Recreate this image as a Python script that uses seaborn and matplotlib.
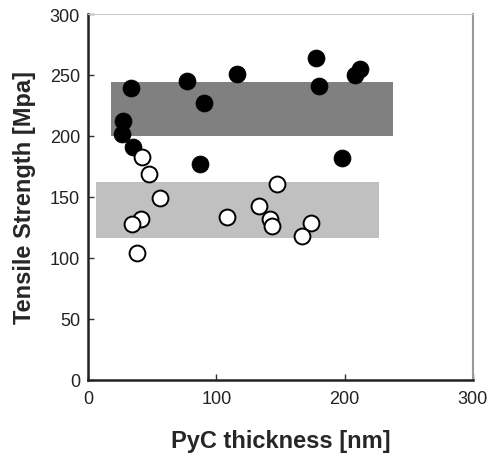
import seaborn as sns
import matplotlib.pyplot as plt
from matplotlib.patches import Rectangle
import pandas as pd

# dados
filled_x = [33, 77, 116, 90, 27, 26, 35, 87, 178, 180, 212, 208, 198]
filled_y = [239, 245, 251, 227, 212, 202, 191, 177, 264, 241, 255, 250, 182]
open_x = [42, 47, 56, 41, 34, 38, 108, 133, 142, 143, 147, 174, 167]
open_y = [183, 169, 149, 132, 128, 104, 134, 143, 132, 126, 161, 129, 118]

# faixas sombreadas (x0, x1, y0, y1)
dark_band = [18, 238, 200, 244]
light_band = [6, 227, 116, 162]

df_filled = pd.DataFrame({"x": filled_x, "y": filled_y})
df_open = pd.DataFrame({"x": open_x, "y": open_y})

sns.set_style("ticks")
plt.rcParams["font.family"] = ["Liberation Sans", "DejaVu Sans"]

fig = plt.figure(figsize=(4.87, 4.56), dpi=100)
ax = fig.add_axes([0.1813, 0.1645, 0.7893, 0.8026])

for band, cor in [(dark_band, "#808080"), (light_band, "#c0c0c0")]:
    ax.add_patch(Rectangle((band[0], band[2]), band[1] - band[0], band[3] - band[2],
                           facecolor=cor, edgecolor="none", zorder=1))

sns.scatterplot(data=df_filled, x="x", y="y", ax=ax, s=150, color="black",
                edgecolor="black", linewidth=0.5, zorder=3)
sns.scatterplot(data=df_open, x="x", y="y", ax=ax, s=130, color="white",
                edgecolor="black", linewidth=1.4, zorder=3)

ax.set_xlim(0, 300)
ax.set_ylim(0, 300)
ax.set_xticks([0, 100, 200, 300])
ax.set_yticks([0, 50, 100, 150, 200, 250, 300])
ax.tick_params(direction="in", length=4, width=1, labelsize=13, colors="#333333",
               labelcolor="#222222")
ax.tick_params(axis="x", pad=7)
ax.tick_params(axis="y", pad=6)
ax.set_xlabel("PyC thickness [nm]", fontsize=17, fontweight="bold", labelpad=16)
ax.set_ylabel("Tensile Strength [Mpa]", fontsize=17, fontweight="bold", labelpad=10)

ax.spines["left"].set_linewidth(1.8)
ax.spines["bottom"].set_linewidth(1.8)
ax.spines["left"].set_color("#222222")
ax.spines["bottom"].set_color("#222222")
ax.spines["right"].set_color("#999999")
ax.spines["top"].set_color("#cccccc")
ax.spines["right"].set_linewidth(1.5)
ax.spines["top"].set_linewidth(0.8)

plt.savefig("out.png", dpi=100)
